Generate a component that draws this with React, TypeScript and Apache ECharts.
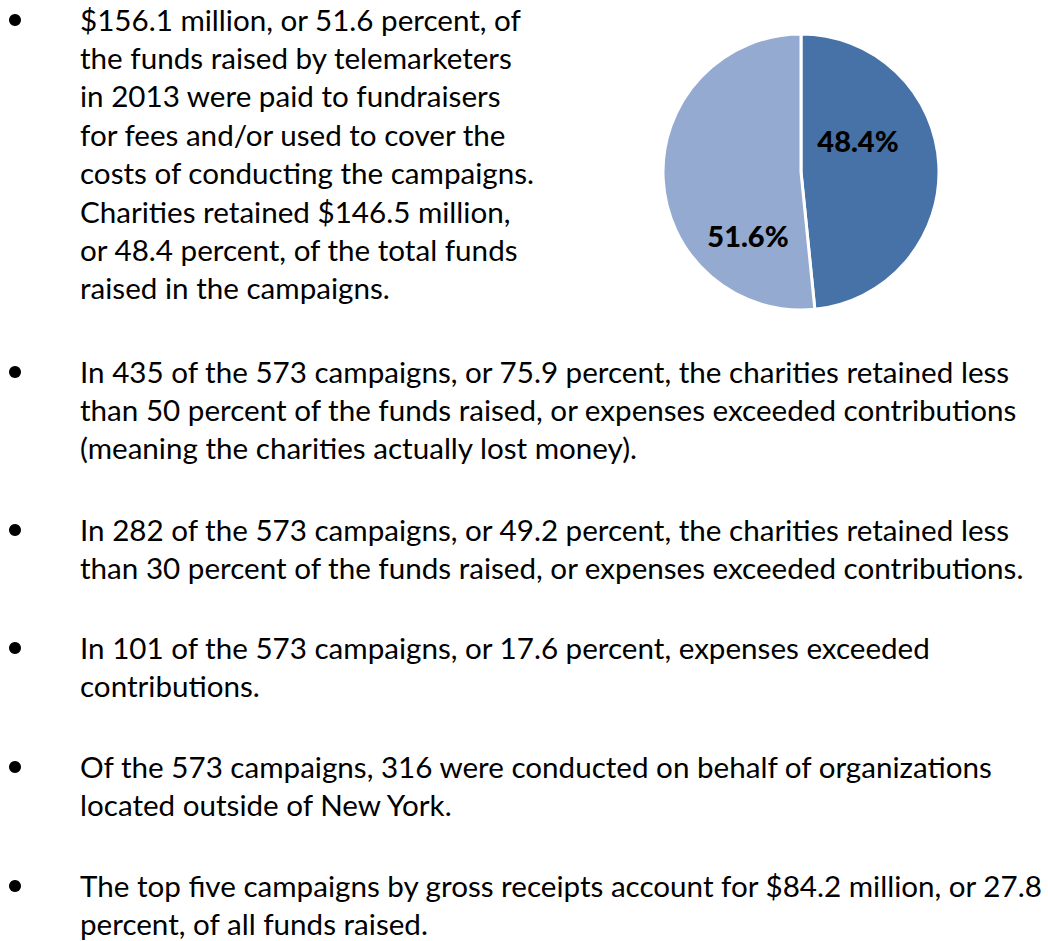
import React, { useEffect, useRef } from "react";
import * as echarts from "echarts";

const sliceNames = ["Retained by charities", "Paid to fundraisers / costs"];
const sliceValues = [48.4, 51.6];
const sliceColors = ["#4672a8", "#94aad0"];

const bullets: string[][] = [
  [
    "$156.1 million, or 51.6 percent, of",
    "the funds raised by telemarketers",
    "in 2013 were paid to fundraisers",
    "for fees and/or used to cover the",
    "costs of conducting the campaigns.",
    "Charities retained $146.5 million,",
    "or 48.4 percent, of the total funds",
    "raised in the campaigns.",
  ],
  [
    "In 435 of the 573 campaigns, or 75.9 percent, the charities retained less",
    "than 50 percent of the funds raised, or expenses exceeded contributions",
    "(meaning the charities actually lost money).",
  ],
  [
    "In 282 of the 573 campaigns, or 49.2 percent, the charities retained less",
    "than 30 percent of the funds raised, or expenses exceeded contributions.",
  ],
  [
    "In 101 of the 573 campaigns, or 17.6 percent, expenses exceeded",
    "contributions.",
  ],
  [
    "Of the 573 campaigns, 316 were conducted on behalf of organizations",
    "located outside of New York.",
  ],
  [
    "The top five campaigns by gross receipts account for $84.2 million, or 27.8",
    "percent, of all funds raised.",
  ],
];

const bulletTops = [19, 371, 529, 647, 766, 885];
const LINE_H = 38.4;
const FONT = "Lato, 'Open Sans', sans-serif";

export default function App() {
  const ref = useRef<HTMLDivElement>(null);
  useEffect(() => {
    if (!ref.current) return;
    const chart = echarts.init(ref.current, null, { renderer: "svg" });
    const texts: any[] = [];
    bullets.forEach((lines, bi) => {
      const y0 = bulletTops[bi];
      texts.push({
        type: "circle",
        shape: { cx: 15, cy: y0 + 1, r: 6 },
        style: { fill: "#000" },
      });
      lines.forEach((ln, li) => {
        texts.push({
          type: "text",
          x: 80,
          y: y0 + li * LINE_H,
          style: {
            text: ln,
            fill: "#000",
            font: `29.6px ${FONT}`,
            textVerticalAlign: "middle",
            textAlign: "left",
          },
        });
      });
    });
    const labelPos = [
      { x: 858, y: 140 },
      { x: 748, y: 235 },
    ];
    chart.setOption({
      animation: false,
      graphic: texts,
      series: [
        {
          type: "pie",
          center: [801, 172],
          radius: [0, 138],
          startAngle: 90,
          clockwise: true,
          itemStyle: { borderColor: "#fff", borderWidth: 3 },
          label: {
            show: true,
            position: "inside",
            formatter: (p: any) => p.value.toFixed(1) + "%",
            color: "#000",
            fontWeight: 900,
            fontSize: 29,
            fontFamily: FONT,
          },
          labelLayout: (p: any) => ({
            x: labelPos[p.dataIndex].x,
            y: labelPos[p.dataIndex].y,
            align: "center",
            verticalAlign: "middle",
          }),
          emphasis: { disabled: true },
          data: sliceNames.map((n, i) => ({
            name: n,
            value: sliceValues[i],
            itemStyle: { color: sliceColors[i] },
          })),
        },
      ],
    });
    return () => chart.dispose();
  }, []);
  return (
    <div
      ref={ref}
      style={{ position: "absolute", left: 0, top: 0, width: 1048, height: 941, background: "#fff" }}
    />
  );
}
